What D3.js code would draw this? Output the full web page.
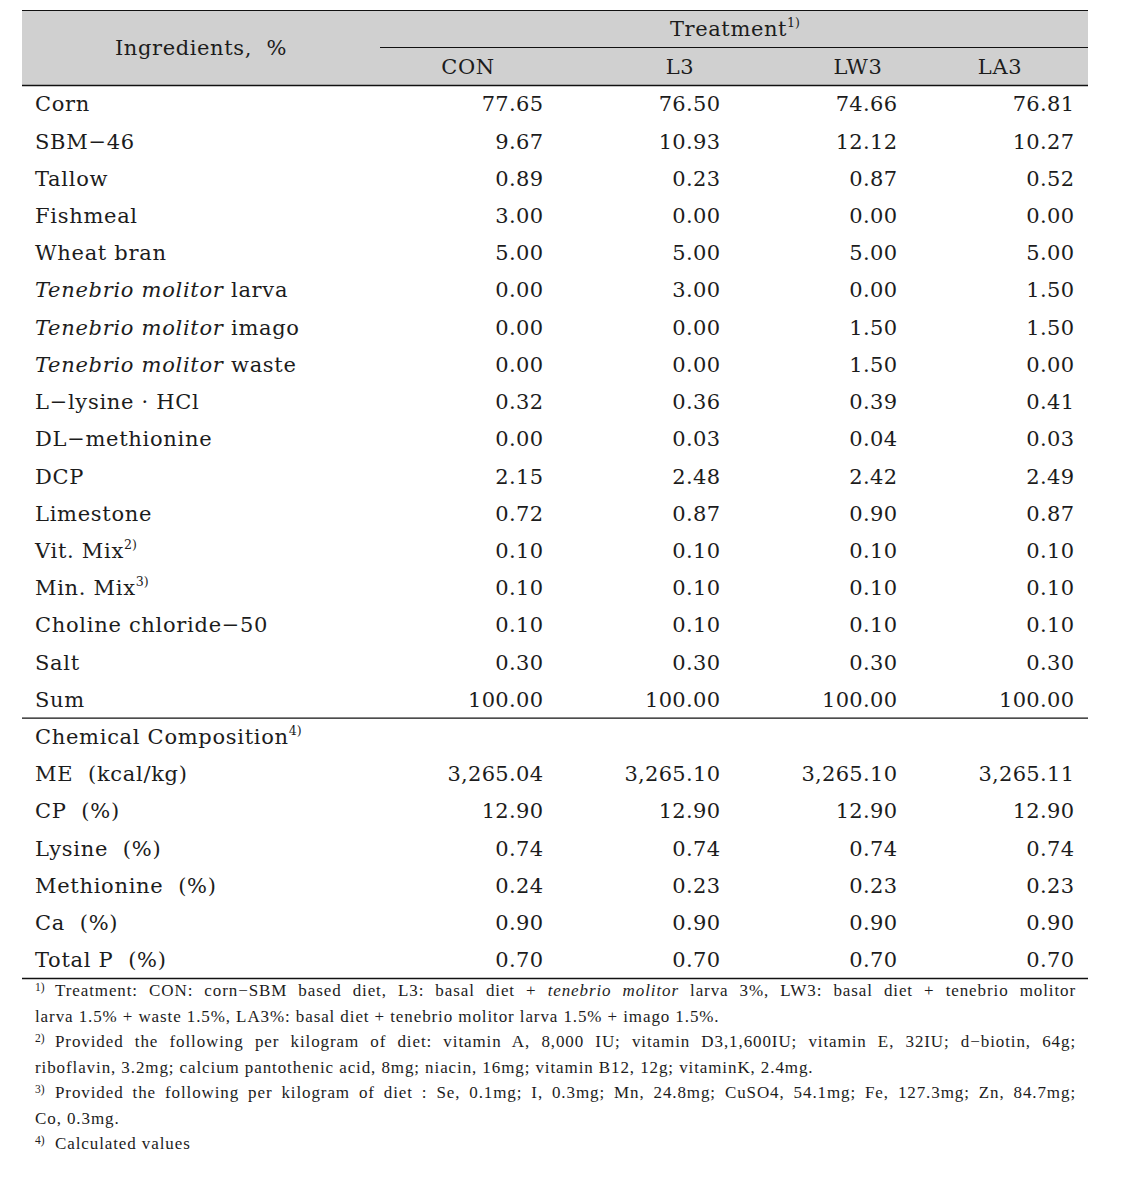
<!DOCTYPE html>
<html>
<head>
<meta charset="utf-8">
<script src="https://cdn.jsdelivr.net/npm/d3@7"></script>
<style>
  body { margin: 0; background: #fff; }
  svg text { fill: #1c1c1c; white-space: pre; }
</style>
</head>
<body>
<div id="chart-area"></div>
<script>
// treatments (columns)
var treatments = ["CON", "L3", "LW3", "LA3"];

// ingredient rows
var ingredients = [
  "Corn", "SBM−46", "Tallow", "Fishmeal", "Wheat bran",
  "Tenebrio molitor| larva", "Tenebrio molitor| imago", "Tenebrio molitor| waste",
  "L−lysine · HCl", "DL−methionine", "DCP", "Limestone",
  "Vit. Mix^2)", "Min. Mix^3)", "Choline chloride−50", "Salt", "Sum"
];
var conIng = [77.65, 9.67, 0.89, 3.00, 5.00, 0.00, 0.00, 0.00, 0.32, 0.00, 2.15, 0.72, 0.10, 0.10, 0.10, 0.30, 100.00];
var l3Ing  = [76.50, 10.93, 0.23, 0.00, 5.00, 3.00, 0.00, 0.00, 0.36, 0.03, 2.48, 0.87, 0.10, 0.10, 0.10, 0.30, 100.00];
var lw3Ing = [74.66, 12.12, 0.87, 0.00, 5.00, 0.00, 1.50, 1.50, 0.39, 0.04, 2.42, 0.90, 0.10, 0.10, 0.10, 0.30, 100.00];
var la3Ing = [76.81, 10.27, 0.52, 0.00, 5.00, 1.50, 1.50, 0.00, 0.41, 0.03, 2.49, 0.87, 0.10, 0.10, 0.10, 0.30, 100.00];

// chemical composition rows
var compTitle = "Chemical Composition^4)";
var composition = ["ME  (kcal/kg)", "CP  (%)", "Lysine  (%)", "Methionine  (%)", "Ca  (%)", "Total P  (%)"];
var conComp = [3265.04, 12.90, 0.74, 0.24, 0.90, 0.70];
var l3Comp  = [3265.10, 12.90, 0.74, 0.23, 0.90, 0.70];
var lw3Comp = [3265.10, 12.90, 0.74, 0.23, 0.90, 0.70];
var la3Comp = [3265.11, 12.90, 0.74, 0.23, 0.90, 0.70];

// footnotes: [mark, text, justify]  (*...* = italic)
var footnotes = [
  ["1)", "Treatment: CON: corn−SBM based diet, L3: basal diet + *tenebrio molitor* larva 3%, LW3: basal diet + tenebrio molitor", true],
  ["", "larva 1.5% + waste 1.5%, LA3%: basal diet + tenebrio molitor larva 1.5% + imago 1.5%.", false],
  ["2)", "Provided the following per kilogram of diet: vitamin A, 8,000 IU; vitamin D3,1,600IU; vitamin E, 32IU; d−biotin, 64g;", true],
  ["", "riboflavin, 3.2mg; calcium pantothenic acid, 8mg; niacin, 16mg; vitamin B12, 12g; vitaminK, 2.4mg.", false],
  ["3)", "Provided the following per kilogram of diet : Se, 0.1mg; I, 0.3mg; Mn, 24.8mg; CuSO4, 54.1mg; Fe, 127.3mg; Zn, 84.7mg;", true],
  ["", "Co, 0.3mg.", false],
  ["4)", "Calculated values", false]
];

var ingVals = [conIng, l3Ing, lw3Ing, la3Ing];
var compVals = [conComp, l3Comp, lw3Comp, la3Comp];

var W = 1133, H = 1179;
var left = 22, right = 1088, labelX = 35, colStart = 380;
var font = "'DejaVu Serif', 'Liberation Serif', serif";
var fontSize = 21;
var numSpacing = 0.3;

var rows = [];
ingredients.forEach(function (name, i) {
  rows.push({ label: name, vals: ingVals.map(function (v) { return v[i]; }) });
});
rows.push({ label: compTitle, vals: null });
composition.forEach(function (name, i) {
  rows.push({ label: name, vals: compVals.map(function (v) { return v[i]; }) });
});

var yscale = d3.scalePoint().domain(d3.range(rows.length)).range([104, 960]);
var xscale = d3.scaleBand().domain(treatments).range([colStart, right]);
// header centres are not even in the source table
var headerX = d3.scaleOrdinal().domain(treatments).range([468, 680, 858, 1000]);
var fmt = d3.format(",.2f");

var svg = d3.select("#chart-area").append("svg")
  .attr("width", W).attr("height", H)
  .style("font-family", font);

// header band
svg.append("rect").attr("x", left).attr("y", 10).attr("width", right - left).attr("height", 75)
  .attr("fill", "#d0d0d0");

function line(x1, x2, y, w) {
  svg.append("line").attr("x1", x1).attr("x2", x2).attr("y1", y).attr("y2", y)
    .attr("stroke", "#111").attr("stroke-width", w);
}
line(left, right, 10.5, 1.2);
line(colStart, right, 47.5, 1.2);
line(left, right, 85.5, 1.4);
line(left, right, (yscale(ingredients.length - 1) + yscale(ingredients.length)) / 2, 1.2);
line(left, right, 978.5, 1.4);

// label with ^superscript and |italic split
function richLabel(sel, label) {
  var sup = null;
  if (label.indexOf("^") >= 0) {
    sup = label.split("^")[1];
    label = label.split("^")[0];
  }
  if (label.indexOf("|") >= 0) {
    var parts = label.split("|");
    sel.append("tspan").attr("font-style", "italic").text(parts[0]);
    sel.append("tspan").text(parts[1]);
  } else {
    sel.append("tspan").text(label);
  }
  if (sup) {
    sel.append("tspan").attr("font-size", fontSize * 0.6).attr("dy", -9).attr("letter-spacing", 0).text(sup);
  }
}

// header text
var hIng = svg.append("text").attr("x", 201).attr("y", 48).attr("dy", "0.35em")
  .attr("text-anchor", "middle").attr("font-size", fontSize).attr("letter-spacing", 0.6);
hIng.text("Ingredients,  %");
var hTr = svg.append("text").attr("x", 735).attr("y", 29).attr("dy", "0.35em")
  .attr("text-anchor", "middle").attr("font-size", fontSize).attr("letter-spacing", 0.6);
richLabel(hTr, "Treatment^1)");
svg.selectAll(".col-head").data(treatments).enter().append("text")
  .attr("class", "col-head")
  .attr("x", function (d) { return headerX(d); })
  .attr("y", 67).attr("dy", "0.35em")
  .attr("text-anchor", "middle").attr("font-size", fontSize).attr("letter-spacing", 0.6)
  .text(function (d) { return d; });

// row labels
var rowG = svg.selectAll(".row").data(rows).enter().append("g").attr("class", "row")
  .attr("transform", function (d, i) { return "translate(0," + yscale(i) + ")"; });
rowG.append("text").attr("x", labelX).attr("dy", "0.35em").attr("font-size", fontSize)
  .attr("letter-spacing", 0.7)
  .each(function (d) { richLabel(d3.select(this), d.label); });

// values
rowG.filter(function (d) { return d.vals; }).selectAll(".val")
  .data(function (d) { return d.vals.map(function (v, j) { return { v: v, t: treatments[j] }; }); })
  .enter().append("text").attr("class", "val")
  .attr("x", function (d) { return xscale(d.t) + xscale.bandwidth() - 14 + numSpacing; })
  .attr("dy", "0.35em").attr("text-anchor", "end").attr("font-size", fontSize)
  .attr("letter-spacing", numSpacing)
  .text(function (d) { return fmt(d.v); });

// footnotes
var fy = d3.scalePoint().domain(d3.range(footnotes.length)).range([991, 1144]);
var fnSize = 17;
footnotes.forEach(function (f, i) {
  var y = fy(i) + 5;
  var x0 = labelX;
  if (f[0]) {
    svg.append("text").attr("x", labelX).attr("y", y - 5).attr("font-size", 11.5)
      .attr("font-family", "'Liberation Serif', serif").text(f[0]);
    x0 = 55;
  }
  var t = svg.append("text").attr("x", x0).attr("y", y).attr("font-size", fnSize)
    .attr("font-family", "'Liberation Serif', serif").attr("letter-spacing", 0.9);
  f[1].split("*").forEach(function (part, k) {
    t.append("tspan").attr("font-style", k % 2 ? "italic" : "normal").text(part);
  });
  if (f[2]) {
    var natural = t.node().getComputedTextLength();
    var spaces = f[1].split(" ").length - 1;
    var target = 1076 - x0;
    t.attr("word-spacing", (target - natural) / spaces);
  }
});
</script>
</body>
</html>
